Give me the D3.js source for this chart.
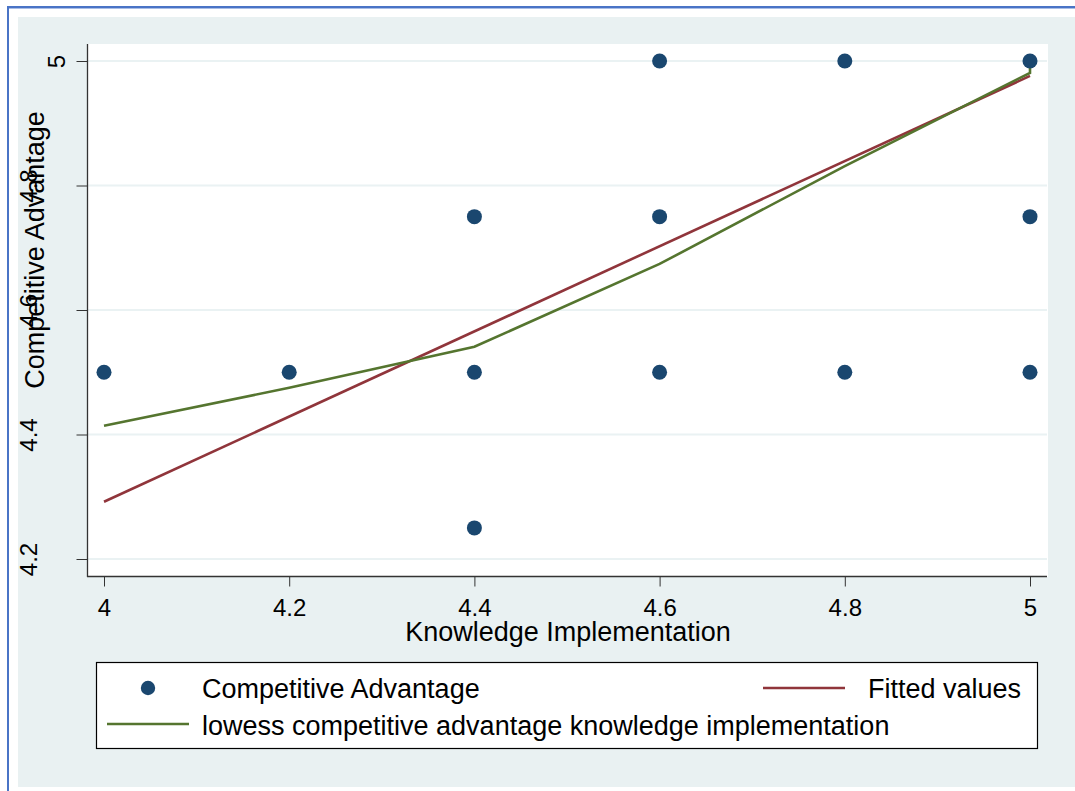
<!DOCTYPE html>
<html><head><meta charset="utf-8">
<script src="https://cdn.jsdelivr.net/npm/d3@7"></script>
<style>body{margin:0;background:#fff}svg{display:block}text{font-family:"Liberation Sans",Arial,sans-serif;fill:#000}</style>
</head><body>
<svg id="c" width="1075" height="791"></svg>
<script>
const xTicks = [4, 4.2, 4.4, 4.6, 4.8, 5];
const yTicks = [4.2, 4.4, 4.6, 4.8, 5];
const scatterX = [4, 4.2, 4.4, 4.4, 4.4, 4.6, 4.6, 4.6, 4.8, 4.8, 5, 5, 5];
const scatterY = [4.5, 4.5, 4.75, 4.5, 4.25, 5, 4.75, 4.5, 5, 4.5, 5, 4.75, 4.5];
const fittedX = [4, 5];
const fittedY = [4.292, 4.976];
const lowessX = [4, 4.2, 4.4, 4.6, 4.8, 5, 5];
const lowessY = [4.414, 4.475, 4.541, 4.674, 4.831, 4.981, 4.998];
const legendLabels = ["Competitive Advantage", "Fitted values", "lowess competitive advantage knowledge implementation"];
const xTitle = "Knowledge Implementation";
const yTitle = "Competitive Advantage";

const colDot = "#1a476f", colFit = "#90353b", colLow = "#55752f";
const svg = d3.select("#c");
// outer frame
svg.append("rect").attr("x",18).attr("y",17).attr("width",1057).attr("height",770).attr("fill","#e9f1f2");
svg.append("line").attr("x1",8).attr("x2",1075).attr("y1",7).attr("y2",7).attr("stroke","#4a74c6").attr("stroke-width",2);
svg.append("line").attr("x1",8).attr("x2",1075).attr("y1",8.5).attr("y2",8.5).attr("stroke","#a9bde6").attr("stroke-width",1);
svg.append("line").attr("x1",8).attr("x2",8).attr("y1",6).attr("y2",791).attr("stroke","#4a74c6").attr("stroke-width",2);
// plot region
const pl = 88, pr = 1048, pt = 44, pb = 577;
svg.append("rect").attr("x",pl).attr("y",pt).attr("width",pr-pl).attr("height",pb-pt).attr("fill","#fff");

const x = d3.scaleLinear().domain([4,5]).range([104,1030]);
const y = d3.scaleLinear().domain([4.2,5]).range([559,61]);

// gridlines
svg.append("g").selectAll("line").data(yTicks).join("line")
  .attr("x1",pl).attr("x2",pr-1).attr("y1",d=>y(d)).attr("y2",d=>y(d))
  .attr("stroke","#eaf2f3").attr("stroke-width",2);

// axes
const xa = svg.append("g").attr("transform",`translate(0,${pb-0.5})`)
  .call(d3.axisBottom(x).tickValues(xTicks).tickFormat(d3.format("")).tickSize(10).tickPadding(12));
xa.select(".domain").remove();
xa.selectAll("line").attr("stroke","#333");
xa.selectAll("text").attr("font-size",24).attr("font-family","Liberation Sans, Arial, sans-serif").attr("fill","#000");

const ya = svg.append("g").attr("transform",`translate(${pl-0.5},0)`)
  .call(d3.axisLeft(y).tickValues(yTicks).tickFormat(d3.format("")).tickSize(11));
ya.select(".domain").remove();
ya.selectAll("line").attr("stroke","#333");
ya.selectAll("text")
  .attr("font-size",24).attr("font-family","Liberation Sans, Arial, sans-serif").attr("fill","#000")
  .attr("text-anchor","middle").attr("dy",null).attr("x",null)
  .attr("transform",function(d){ const len = String(d3.format("")(d)).length; const cx = 56 - (len-1)*14 - (pl-0.5); return `translate(${cx+9},0) rotate(-90)`; });

svg.append("line").attr("x1",pl-0.5).attr("x2",pl-0.5).attr("y1",pt).attr("y2",pb).attr("stroke","#333").attr("stroke-width",1.3);
svg.append("line").attr("x1",pl-1).attr("x2",pr-1).attr("y1",pb-0.5).attr("y2",pb-0.5).attr("stroke","#333").attr("stroke-width",1.3);

// titles
svg.append("text").attr("x",(pl+pr)/2).attr("y",641).attr("text-anchor","middle").attr("font-size",27).text(xTitle);
svg.append("text").attr("transform","translate(44,250) rotate(-90)").attr("text-anchor","middle").attr("font-size",27).text(yTitle);

// lines
const line = d3.line().x(d=>x(d[0])).y(d=>y(d[1]));
svg.append("path").datum(fittedX.map((v,i)=>[v,fittedY[i]])).attr("d",line).attr("fill","none").attr("stroke",colFit).attr("stroke-width",2.6);
svg.append("path").datum(lowessX.map((v,i)=>[v,lowessY[i]])).attr("d",line).attr("fill","none").attr("stroke",colLow).attr("stroke-width",2.6);

// points
svg.append("g").selectAll("circle").data(scatterX.map((v,i)=>[v,scatterY[i]])).join("circle")
  .attr("cx",d=>x(d[0])).attr("cy",d=>y(d[1])).attr("r",7.5).attr("fill",colDot);

// legend
const lg = svg.append("g");
lg.append("rect").attr("x",96.5).attr("y",662.5).attr("width",941).attr("height",86).attr("fill","#fff").attr("stroke","#000").attr("stroke-width",1.2);
lg.append("circle").attr("cx",148).attr("cy",688).attr("r",7.2).attr("fill",colDot);
lg.append("text").attr("x",202).attr("y",698).attr("font-size",27).text(legendLabels[0]);
lg.append("line").attr("x1",763).attr("x2",845).attr("y1",688).attr("y2",688).attr("stroke",colFit).attr("stroke-width",2.6);
lg.append("text").attr("x",1021).attr("y",698).attr("text-anchor","end").attr("font-size",27).text(legendLabels[1]);
lg.append("line").attr("x1",107).attr("x2",189).attr("y1",724).attr("y2",724).attr("stroke",colLow).attr("stroke-width",2.6);
lg.append("text").attr("x",202).attr("y",735).attr("font-size",27).text(legendLabels[2]);
</script>
</body></html>
